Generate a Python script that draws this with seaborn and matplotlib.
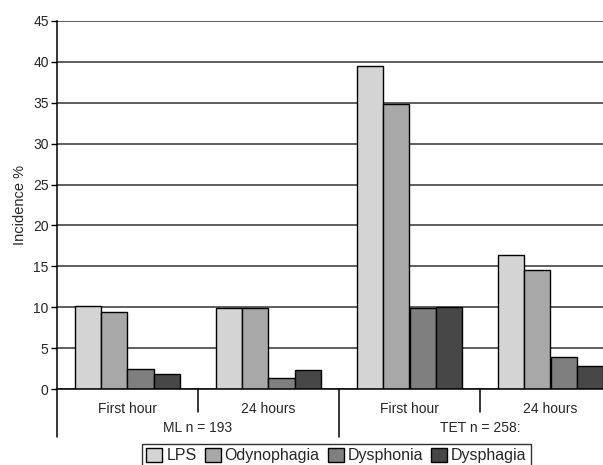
import pandas as pd
import seaborn as sns
import matplotlib.pyplot as plt
from matplotlib.patches import Patch

# values (incidence %)
slots = ["ML First hour", "ML 24 hours", "TET First hour", "TET 24 hours"]
tick_labels = ["First hour", "24 hours", "First hour", "24 hours"]
groups = ["ML n = 193", "TET n = 258:"]
symptoms = ["LPS", "Odynophagia", "Dysphonia", "Dysphagia"]
lps = [10.2, 9.9, 39.5, 16.4]
odynophagia = [9.4, 9.9, 34.8, 14.6]
dysphonia = [2.4, 1.3, 9.9, 3.9]
dysphagia = [1.8, 2.3, 10.0, 2.8]
colors = ["#d4d4d4", "#a8a8a8", "#7f7f7f", "#474747"]

rows = []
for name, vals in zip(symptoms, [lps, odynophagia, dysphonia, dysphagia]):
    for slot, v in zip(slots, vals):
        rows.append({"slot": slot, "symptom": name, "value": v})
df = pd.DataFrame(rows)

sns.set_style("white")
plt.rcParams["font.family"] = ["Liberation Sans", "DejaVu Sans"]

fig = plt.figure(figsize=(6.03, 4.65), dpi=100)
ax = fig.add_axes([57 / 603, 1 - 389 / 465, 564 / 603, 368 / 465])

sns.barplot(data=df, x="slot", y="value", hue="symptom", order=slots,
            hue_order=symptoms, palette=colors, width=0.74, errorbar=None,
            edgecolor="black", linewidth=1.0, saturation=1, legend=False, ax=ax)

ax.set_ylim(0, 45)
ax.set_xlim(-0.5, 3.5)
ax.set_yticks(range(0, 46, 5))
ax.set_xticks(range(4), labels=tick_labels)
ax.tick_params(axis="y", left=True, length=4, width=1, color="black",
               labelsize=10, pad=2)
ax.tick_params(axis="x", bottom=False, labelsize=10, pad=6)
ax.set_axisbelow(True)
ax.yaxis.grid(True, color="#333333", linewidth=1.1)
ax.set_xlabel("")
ax.set_ylabel("Incidence %", fontsize=10.5, labelpad=4)

for s in ["top", "right"]:
    ax.spines[s].set_visible(False)
ax.spines["left"].set_color("black")
ax.spines["left"].set_linewidth(1.1)
ax.spines["bottom"].set_color("black")
ax.spines["bottom"].set_linewidth(1.1)

# category separators below the axis
tr = ax.get_xaxis_transform()
for x, depth in [(0.5, -0.0625), (2.5, -0.0625), (1.5, -0.13), (-0.5, -0.13)]:
    ax.plot([x, x], [0, depth], transform=tr, color="black", lw=1.1,
            clip_on=False)

# group labels
for x, g in zip([0.5, 2.5], groups):
    ax.text(x, -0.105, g, transform=tr, ha="center", va="center", fontsize=10)

handles = [Patch(facecolor=c, edgecolor="black", linewidth=1.0) for c in colors]
leg = fig.legend(handles, symptoms, loc="lower center", ncol=4,
                 bbox_to_anchor=(0.558, -0.012), fontsize=11.5, frameon=True,
                 fancybox=False, edgecolor="black", handlelength=1.0,
                 handleheight=0.9, handletextpad=0.25, columnspacing=0.5,
                 borderpad=0.25, borderaxespad=0.2)
leg.get_frame().set_linewidth(1.0)

fig.savefig("out.png", dpi=100)
